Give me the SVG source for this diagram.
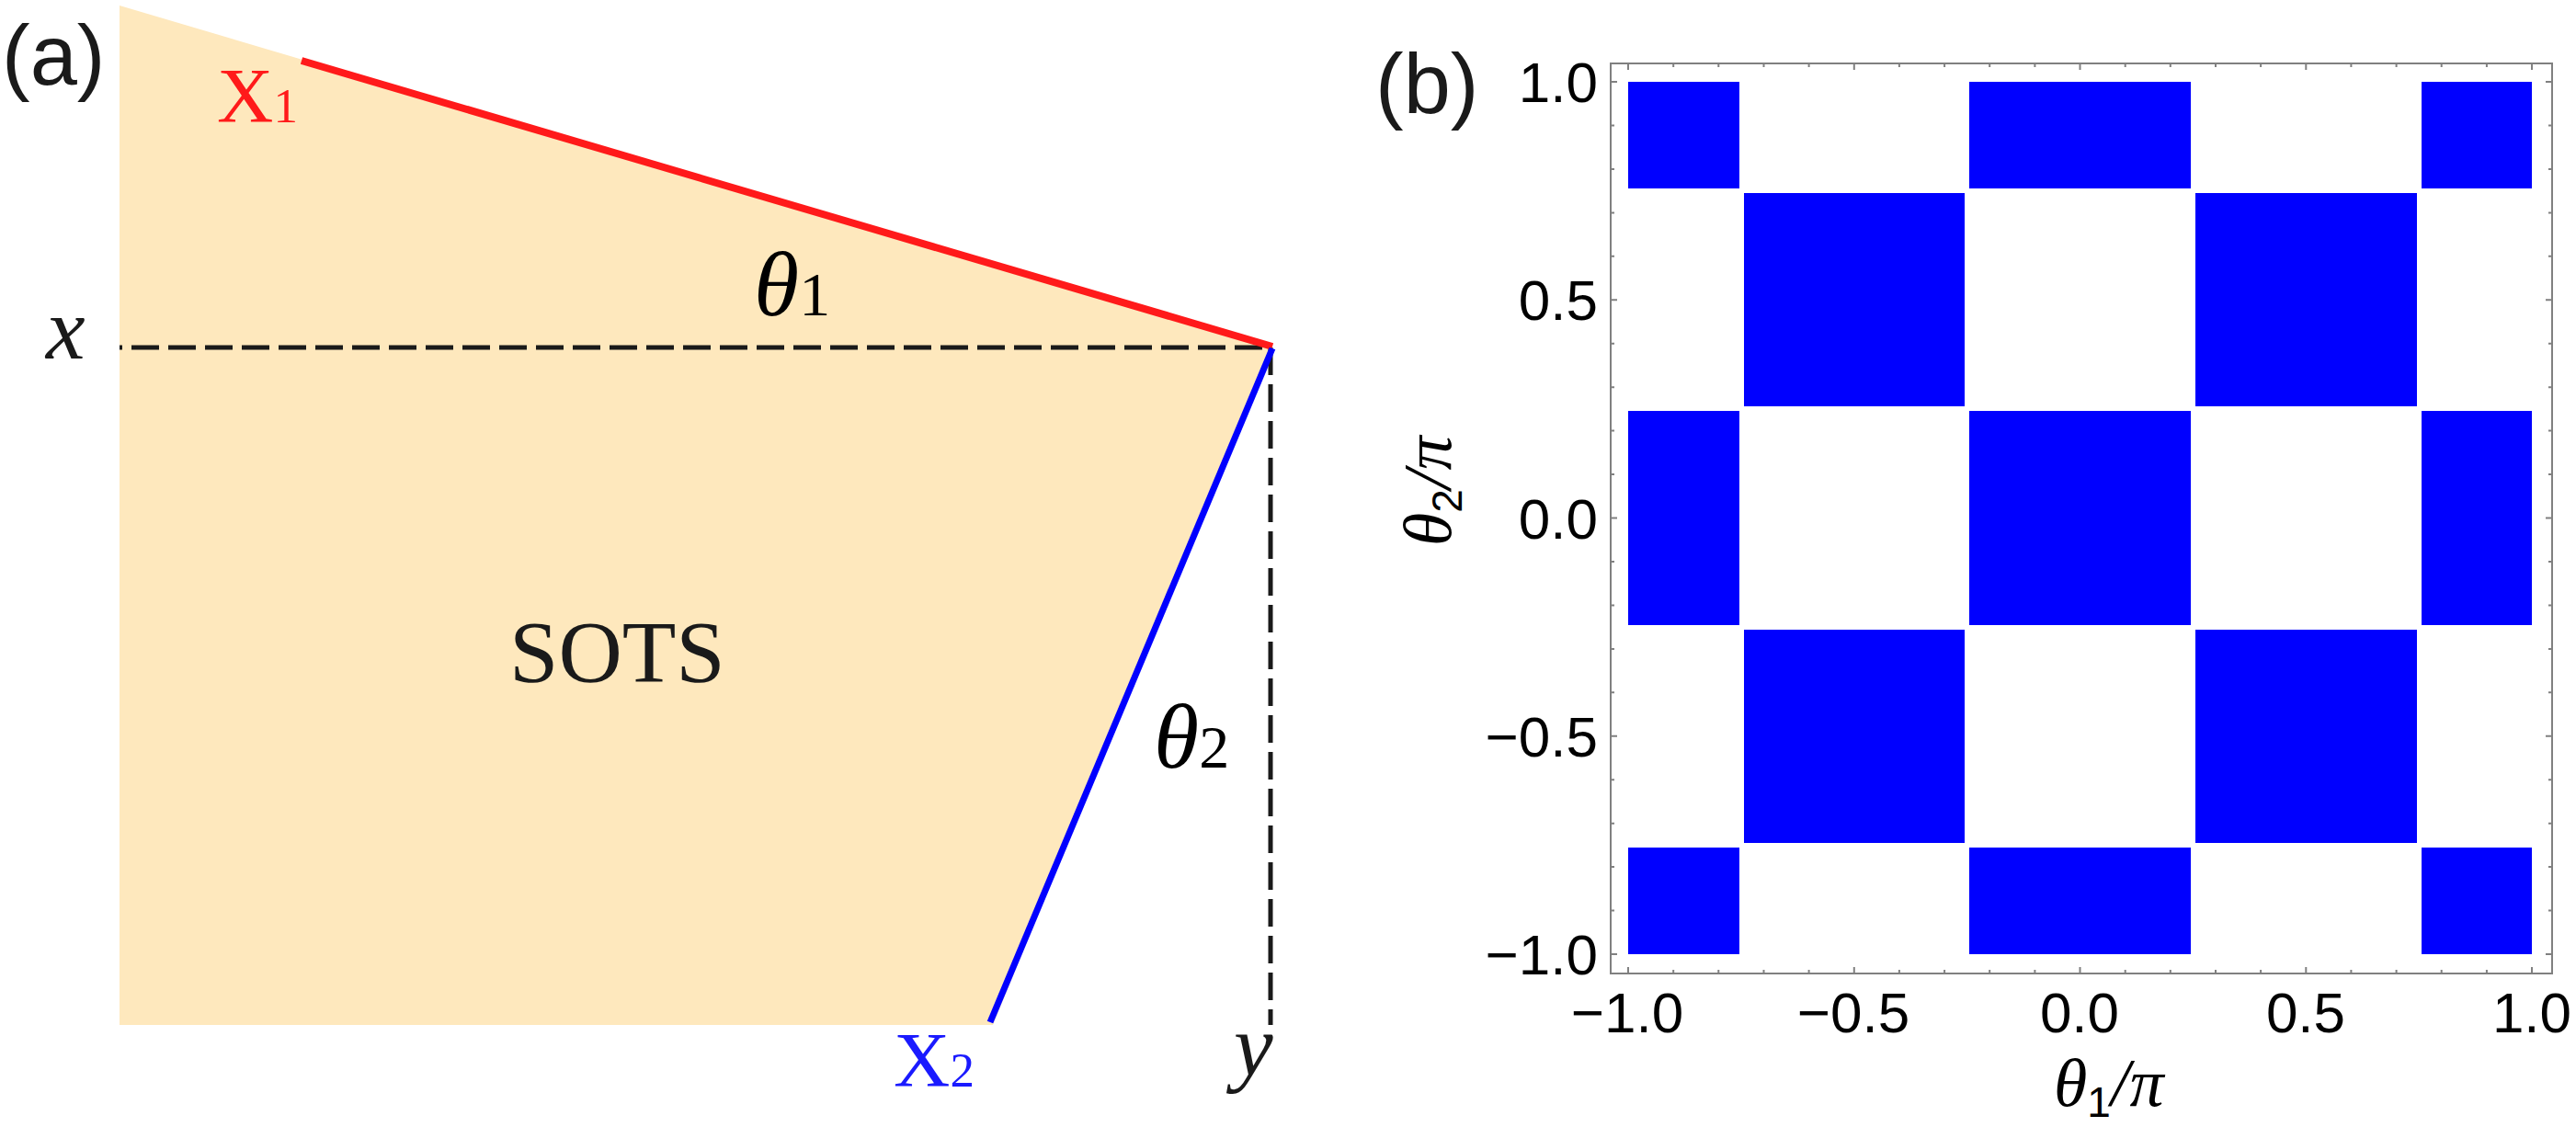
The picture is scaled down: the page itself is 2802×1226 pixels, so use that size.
<svg xmlns="http://www.w3.org/2000/svg" width="2802" height="1226" viewBox="0 0 2802 1226">
<style>
.lbl{font-family:"Liberation Sans",Arial,sans-serif;fill:#1a1a1a}
.tick{font-family:"Liberation Sans",Arial,sans-serif;font-size:62px;fill:#000}
.ser{font-family:"Liberation Serif","Times New Roman",serif}
.it{font-style:italic}
.dash{stroke:#1a1a1a;stroke-width:5;fill:none;stroke-dasharray:30 10}
.sq{fill:#0000ff}
.frame{fill:none;stroke:#808080;stroke-width:2}
.tk{stroke:#808080;stroke-width:2}
.sub{font-family:"Liberation Sans",Arial,sans-serif;font-size:46px}
</style>
<rect width="2802" height="1226" fill="#ffffff"/>
<g id="panel-a">
  <text class="lbl" x="2" y="92" font-size="92">(a)</text>
  <g id="sots-region">
    <polygon points="130,6 1383,377 1080,1115 130,1115" fill="#fee8bd"/>
    <text class="ser" x="554" y="742" font-size="96" fill="#1a1a1a">SOTS</text>
  </g>
  <g id="connectors">
    <line class="dash" x1="130" y1="378" x2="1383" y2="378" stroke-dashoffset="27"/>
    <line class="dash" x1="1382" y1="378" x2="1382" y2="1115"/>
    <line id="edge-x1" x1="328" y1="66" x2="1384" y2="377" stroke="#ff1a1a" stroke-width="8"/>
    <line id="edge-x2" x1="1384" y1="379" x2="1077" y2="1112" stroke="#0000ff" stroke-width="7"/>
  </g>
  <g id="label-x1"><text class="ser" x="236" y="133" font-size="85" fill="#ff1a1a">X<tspan font-size="53">1</tspan></text></g>
  <g id="label-x2"><text class="ser" x="972" y="1182" font-size="85" fill="#1a1aff">X<tspan font-size="53">2</tspan></text></g>
  <g id="label-x"><text class="ser it" x="50" y="390" font-size="96" fill="#1a1a1a">x</text></g>
  <g id="label-y"><text class="ser it" x="1342" y="1170" font-size="96" fill="#1a1a1a">y</text></g>
  <g id="label-theta1"><text class="ser" x="820" y="343" font-size="100" fill="#000"><tspan class="it">θ</tspan><tspan font-size="68">1</tspan></text></g>
  <g id="label-theta2"><text class="ser" x="1255" y="835" font-size="100" fill="#000"><tspan class="it">θ</tspan><tspan font-size="66">2</tspan></text></g>
</g>
<g id="panel-b">
  <text class="lbl" x="1496" y="123" font-size="92">(b)</text>
  <g id="squares">
    <rect class="sq" x="1771" y="89" width="121" height="116"/>
    <rect class="sq" x="2142" y="89" width="241" height="116"/>
    <rect class="sq" x="2634" y="89" width="120" height="116"/>
    <rect class="sq" x="1897" y="210" width="240" height="232"/>
    <rect class="sq" x="2388" y="210" width="241" height="232"/>
    <rect class="sq" x="1771" y="447" width="121" height="233"/>
    <rect class="sq" x="2142" y="447" width="241" height="233"/>
    <rect class="sq" x="2634" y="447" width="120" height="233"/>
    <rect class="sq" x="1897" y="685" width="240" height="232"/>
    <rect class="sq" x="2388" y="685" width="241" height="232"/>
    <rect class="sq" x="1771" y="922" width="121" height="116"/>
    <rect class="sq" x="2142" y="922" width="241" height="116"/>
    <rect class="sq" x="2634" y="922" width="120" height="116"/>
  </g>
  <rect class="frame" x="1752" y="69" width="1024" height="990"/>
  <g id="ticks">
    <path class="tk" d="M1771,1059v-7M1820.2,1059v-4M1869.3,1059v-4M1918.5,1059v-4M1967.6,1059v-4M2016.8,1059v-7M2065.9,1059v-4M2115.1,1059v-4M2164.2,1059v-4M2213.4,1059v-4M2262.5,1059v-7M2311.7,1059v-4M2360.8,1059v-4M2410,1059v-4M2459.1,1059v-4M2508.3,1059v-7M2557.4,1059v-4M2606.6,1059v-4M2655.7,1059v-4M2704.9,1059v-4M2754,1059v-7"/>
    <path class="tk" d="M1771,69v7M1820.2,69v4M1869.3,69v4M1918.5,69v4M1967.6,69v4M2016.8,69v7M2065.9,69v4M2115.1,69v4M2164.2,69v4M2213.4,69v4M2262.5,69v7M2311.7,69v4M2360.8,69v4M2410,69v4M2459.1,69v4M2508.3,69v7M2557.4,69v4M2606.6,69v4M2655.7,69v4M2704.9,69v4M2754,69v7"/>
    <path class="tk" d="M1752,89h7M1752,136.5h4M1752,183.9h4M1752,231.4h4M1752,278.8h4M1752,326.3h7M1752,373.7h4M1752,421.2h4M1752,468.6h4M1752,516.1h4M1752,563.5h7M1752,611h4M1752,658.4h4M1752,705.9h4M1752,753.3h4M1752,800.8h7M1752,848.2h4M1752,895.7h4M1752,943.1h4M1752,990.6h4M1752,1038h7"/>
    <path class="tk" d="M2776,89h-7M2776,136.5h-4M2776,183.9h-4M2776,231.4h-4M2776,278.8h-4M2776,326.3h-7M2776,373.7h-4M2776,421.2h-4M2776,468.6h-4M2776,516.1h-4M2776,563.5h-7M2776,611h-4M2776,658.4h-4M2776,705.9h-4M2776,753.3h-4M2776,800.8h-7M2776,848.2h-4M2776,895.7h-4M2776,943.1h-4M2776,990.6h-4M2776,1038h-7"/>
  </g>
  <g id="y-tick-labels" text-anchor="end">
    <text class="tick" x="1738" y="111">1.0</text>
    <text class="tick" x="1738" y="348">0.5</text>
    <text class="tick" x="1738" y="586">0.0</text>
    <text class="tick" x="1738" y="823">−0.5</text>
    <text class="tick" x="1738" y="1060">−1.0</text>
  </g>
  <g id="x-tick-labels" text-anchor="middle">
    <text class="tick" x="1770" y="1123">−1.0</text>
    <text class="tick" x="2016" y="1123">−0.5</text>
    <text class="tick" x="2262" y="1123">0.0</text>
    <text class="tick" x="2508" y="1123">0.5</text>
    <text class="tick" x="2754" y="1123">1.0</text>
  </g>
  <g id="x-axis-label"><text class="ser" x="2234" y="1203" font-size="74" fill="#000"><tspan class="it">θ</tspan><tspan class="sub" dy="12">1</tspan><tspan class="it" dy="-12">/π</tspan></text></g>
  <g id="y-axis-label"><text class="ser" transform="translate(1578,594) rotate(-90)" font-size="74" fill="#000"><tspan class="it">θ</tspan><tspan class="sub" dy="12">2</tspan><tspan class="it" dy="-12">/π</tspan></text></g>
</g>
</svg>
